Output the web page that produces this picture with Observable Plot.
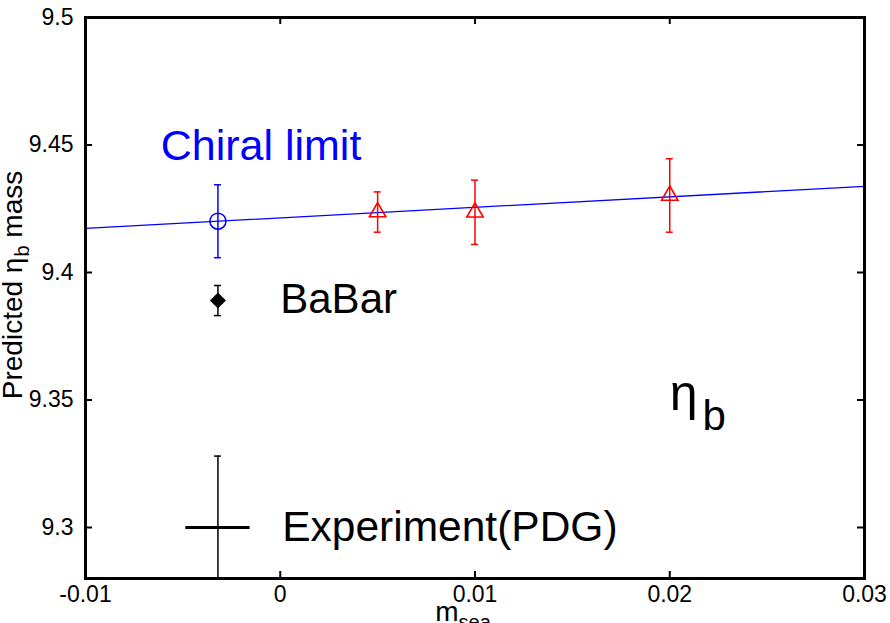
<!DOCTYPE html>
<html><head><meta charset="utf-8">
<script src="https://cdn.jsdelivr.net/npm/d3@7"></script>
<script src="https://cdn.jsdelivr.net/npm/@observablehq/plot@0.6"></script>
<style>body{margin:0;background:#fff} svg{font-family:"Liberation Sans",Arial,sans-serif}</style>
</head><body><div id="chart"></div>
<script>
// ticks
const xTicks = [-0.01, 0, 0.01, 0.02, 0.03];
const xTickLabels = ["-0.01", "0", "0.01", "0.02", "0.03"];
const yTicks = [9.3, 9.35, 9.4, 9.45, 9.5];
const yTickLabels = ["9.3", "9.35", "9.4", "9.45", "9.5"];

// chiral-limit extrapolated point
const chiralX = [-0.0032];
const chiralY = [9.4201];
const chiralErr = [0.0143];

// sea-quark mass points
const seaX = [0.005, 0.01, 0.02];
const seaY = [9.4237, 9.4236, 9.4302];
const seaErr = [0.0079, 0.0126, 0.0144];

// BaBar
const babarX = [-0.0032];
const babarY = [9.389];
const babarErr = [0.0059];

// PDG
const pdgX = [-0.0032];
const pdgY = [9.300];
const pdgErr = [0.028];
const pdgXErr = [0.00165];

// linear fit
const fitX = [-0.01, 0.03];
const fitY = [9.4173, 9.4338];

const rows = (X, Y, E) => X.map((x, i) => ({x, y: Y[i], lo: Y[i] - E[i], hi: Y[i] + E[i]}));
const chiral = rows(chiralX, chiralY, chiralErr);
const sea = rows(seaX, seaY, seaErr);
const babar = rows(babarX, babarY, babarErr);
const pdg = pdgX.map((x, i) => ({x, y: pdgY[i], lo: pdgY[i] - pdgErr[i], hi: pdgY[i] + pdgErr[i], xl: x - pdgXErr[i], xh: x + pdgXErr[i]}));
const fit = fitX.map((x, i) => ({x, y: fitY[i]}));

function errorMarks(data, color, caps = ["lo", "hi"]) {
  return [
    Plot.ruleX(data, {x: "x", y1: "lo", y2: "hi", stroke: color, strokeWidth: 1.5, clip: true}),
    ...caps.map(c => Plot.ruleY(data, {x1: "x", x2: "x", y: c, insetLeft: -3.5, insetRight: -3.5, stroke: color, strokeWidth: 1.5}))
  ];
}

const plot = Plot.plot({
  width: 890, height: 623,
  marginLeft: 85, marginRight: 26, marginTop: 17, marginBottom: 45,
  x: {domain: [-0.01, 0.03]},
  y: {domain: [9.28, 9.5]},
  style: {fontFamily: "Liberation Sans, Arial, sans-serif", background: "white", color: "black", overflow: "visible"},
  marks: [
    Plot.line(fit, {x: "x", y: "y", stroke: "#0000ff", strokeWidth: 1.3}),
    ...errorMarks(chiral, "#0000ff"),
    ...errorMarks(sea, "#ff0000"),
    ...errorMarks(babar, "black"),
    ...errorMarks(pdg, "black", ["hi"]),
    Plot.ruleY(pdg, {x1: "xl", x2: "xh", y: "y", stroke: "black", strokeWidth: 3}),
    Plot.dot(chiral, {x: "x", y: "y", r: 8, symbol: "circle", stroke: "#0000ff", fill: "none", strokeWidth: 1.5}),
    Plot.dot(sea, {x: "x", y: "y", r: 6.1, symbol: "triangle", stroke: "#ff0000", fill: "none", strokeWidth: 1.6}),
    Plot.dot(babar, {x: "x", y: "y", r: 7.2, symbol: "diamond2", fill: "black", stroke: "none"}),
    // ticks (inward)
    Plot.tickX(xTicks, {x: d => d, insetTop: 554, strokeWidth: 2}),
    Plot.tickX(xTicks, {x: d => d, insetBottom: 554, strokeWidth: 2}),
    Plot.tickY(yTicks, {y: d => d, insetRight: 772, strokeWidth: 2}),
    Plot.tickY(yTicks, {y: d => d, insetLeft: 772, strokeWidth: 2}),
    Plot.frame({stroke: "black", strokeWidth: 3}),
    Plot.axisX(xTicks, {anchor: "bottom", tickSize: 0, tickPadding: 7, fontSize: 23, label: null,
      tickFormat: d => xTickLabels[xTicks.indexOf(d)]}),
    Plot.axisY(yTicks, {anchor: "left", tickSize: 0, tickPadding: 12, fontSize: 23, label: null,
      tickFormat: d => yTickLabels[yTicks.indexOf(d)]}),
    // annotations
    Plot.text(["Chiral limit"], {text: d => d, x: -0.00614, y: 9.444, textAnchor: "start", lineAnchor: "bottom", fill: "#0000ff", fontSize: 43}),
    Plot.text(["BaBar"], {text: d => d, x: 0.0, y: 9.3841, textAnchor: "start", lineAnchor: "bottom", fill: "black", fontSize: 42}),
    Plot.text(["Experiment(PDG)"], {text: d => d, x: 0.0001, y: 9.2948, textAnchor: "start", lineAnchor: "bottom", fill: "black", fontSize: 42.5}),
    Plot.text(["η_{b}"], {text: d => d, x: 0.02, y: 9.3461, textAnchor: "start", lineAnchor: "bottom", fill: "black", fontSize: 50}),
    Plot.text(["Predicted η_{b} mass"], {text: d => d, frameAnchor: "left", rotate: -90, dx: -64, dy: -13, textAnchor: "middle", lineAnchor: "bottom", fill: "black", fontSize: 28}),
    Plot.text(["m_{sea}"], {text: d => d, frameAnchor: "bottom", dx: -12, dy: 42, textAnchor: "middle", lineAnchor: "bottom", fill: "black", fontSize: 28})
  ]
});

// subscript settings per label: [subscript font size, baseline shift, extra gap]
const subStyles = {
  "η_{b}": [42, 20, 5],
  "Predicted η_{b} mass": [20, 7, 1],
  "m_{sea}": [20, 8, 0]
};

d3.select(plot).selectAll("text").each(function() {
  const el = d3.select(this);
  const s = this.textContent;
  const st = subStyles[s];
  if (!st) return;
  const [subSize, subDy, subDx] = st;
  while (this.firstChild) this.removeChild(this.firstChild);
  const parts = s.split(/(_\{[^}]*\})/).filter(p => p);
  let lowered = false;
  for (const p of parts) {
    if (p.startsWith("_{")) {
      el.append("tspan").attr("font-size", subSize).attr("dy", subDy).attr("dx", subDx).text(p.slice(2, -1));
      lowered = true;
    } else {
      const t = el.append("tspan").text(p);
      if (lowered) { t.attr("dy", -subDy); lowered = false; }
    }
  }
});

document.getElementById("chart").appendChild(plot);
</script>
</body></html>
